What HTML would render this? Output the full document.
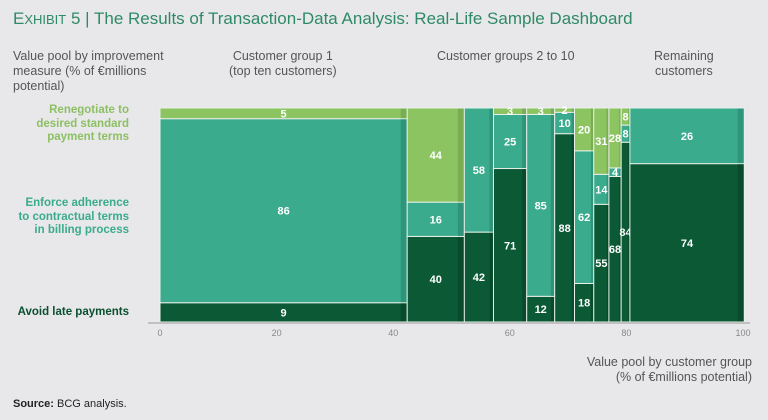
<!DOCTYPE html>
<html><head><meta charset="utf-8"><style>
body{margin:0;background:#e8e8ea;font-family:"Liberation Sans",sans-serif;}
#wrap{position:relative;width:768px;height:420px;overflow:hidden;background:#e8e8ea;}
.t{position:absolute;white-space:nowrap;}
</style></head><body>
<div id="wrap">
<div class="t" style="left:13px;top:9px;font-size:17px;color:#2e8a66;">E<span style="font-size:13px">XHIBIT</span> 5 | The Results of Transaction-Data Analysis: Real-Life Sample Dashboard</div>
<div class="t" style="left:13px;top:49px;font-size:12.5px;line-height:15px;color:#555;">Value pool by improvement<br>measure (% of €millions<br>potential)</div>
<div class="t" style="left:229px;top:49px;font-size:12.5px;line-height:15px;color:#555;text-align:center;">Customer group 1<br>(top ten customers)</div>
<div class="t" style="left:437px;top:49px;font-size:12.5px;color:#555;">Customer groups 2 to 10</div>
<div class="t" style="left:654px;top:49px;font-size:12.5px;line-height:15px;color:#555;text-align:center;">Remaining<br>customers</div>
<div class="t" style="right:639px;top:104px;font-size:11.5px;line-height:13.5px;font-weight:bold;color:#8cc063;text-align:right;">Renegotiate to<br>desired standard<br>payment terms</div>
<div class="t" style="right:639px;top:197px;font-size:11.5px;line-height:13.5px;font-weight:bold;color:#3aab8c;text-align:right;">Enforce adherence<br>to contractual terms<br>in billing process</div>
<div class="t" style="right:639px;top:306px;font-size:11.5px;font-weight:bold;color:#0b4f2f;text-align:right;">Avoid late payments</div>
<div class="t" style="right:16px;top:355px;font-size:12.5px;line-height:15px;color:#555;text-align:right;">Value pool by customer group<br>(% of €millions potential)</div>
<div class="t" style="left:13px;top:398px;font-size:11px;color:#222;"><b>Source:</b> BCG analysis.</div>
<svg id="svg" width="768" height="420" style="position:absolute;left:0;top:0"></svg>
</div>
<script>
const widths=[42.4,9.8,5.0,5.7,4.8,3.4,3.3,2.6,2.1,1.5,19.6];
const late=[9,40,42,71,12,88,18,55,68,84,74];
const enforce=[86,16,58,25,85,10,62,14,4,8,26];
const reneg=[5,44,0,3,3,2,20,31,28,8,0];
const ticks=[0,20,40,60,80,100];
const X0=160,X1=743,Y0=322,Y1=108;
const sx=v=>X0+v/100*(X1-X0);
const sy=v=>Y0-v/100*(Y0-Y1);
const svg=document.getElementById('svg');
const NS='http://www.w3.org/2000/svg';
function mk(t,a){const e=document.createElementNS(NS,t);for(const k in a)e.setAttribute(k,a[k]);svg.appendChild(e);return e;}
const series=[[late,'#0b5a35','#084a2b','late'],[enforce,'#3aab8c','#2f947a','enforce'],[reneg,'#8dc462','#7aad52','renegotiate']];
let cx=0;
widths.forEach((w,i)=>{
  const tot=late[i]+enforce[i]+reneg[i];
  let acc=0;
  series.forEach(([arr,c,dc,nm])=>{
    const v=arr[i];if(!v)return;
    const a=acc/tot*100,b=(acc+v)/tot*100;acc+=v;
    const x=sx(cx),x2=sx(cx+w),yt=sy(b),yb=sy(a);
    const r=mk('rect',{x:x,y:yt,width:x2-x,height:yb-yt,fill:c,stroke:'#e8f0ea','stroke-width':1});
    
    
    const sw=Math.min(6,(x2-x)*0.12);
    const e=mk('rect',{x:x2-sw-0.5,y:yt+0.5,width:sw,height:Math.max(0,yb-yt-1),fill:dc});
    
    
    const tx=mk('text',{x:(x+x2)/2,y:(yt+yb)/2+4,'text-anchor':'middle','font-size':11,'font-weight':'bold',fill:'#fff','font-family':'Liberation Sans, sans-serif'});
    tx.textContent=v;
    
    
  });
  cx+=w;
});
const ax=mk('line',{x1:148,x2:750,y1:Y0+1,y2:Y0+1,stroke:'#999','stroke-width':1});


ticks.forEach(t=>{
  const tx=mk('text',{x:sx(t),y:336,'text-anchor':'middle','font-size':9,fill:'#888','font-family':'Liberation Sans, sans-serif'});
  tx.textContent=t;
  
  
});
</script>
</body></html>
